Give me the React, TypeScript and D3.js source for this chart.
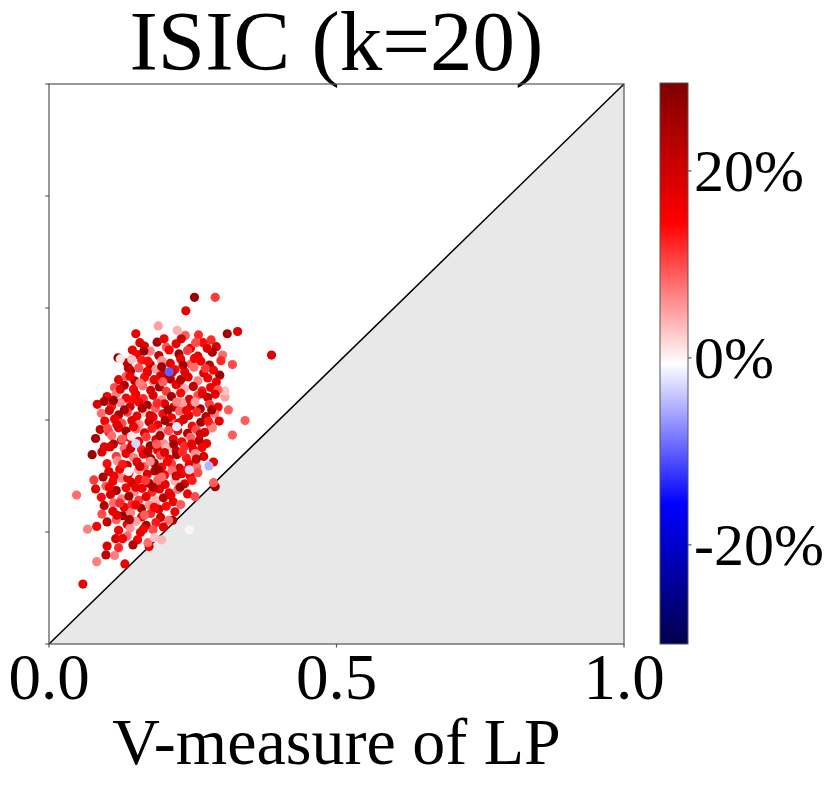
import React from "react";
import * as d3 from "d3";

// [V-measure of LP, y value, change %]
const points: [number, number, number][] = [
  [0.253,0.619,26],[0.289,0.619,11],[0.238,0.595,17],[0.190,0.568,5],[0.151,0.554,17],[0.223,0.560,4],[0.237,0.551,9],[0.260,0.552,12],[0.282,0.543,12],[0.310,0.554,25],[0.328,0.558,18],[0.387,0.516,18],[0.158,0.538,18],
  [0.048,0.266,8],[0.067,0.205,7],[0.083,0.210,15],[0.059,0.107,17],[0.083,0.147,7],[0.101,0.175,18],[0.099,0.159,22],[0.132,0.143,16],[0.244,0.204,0],[0.341,0.399,9],[0.319,0.373,9],[0.312,0.418,9],[0.306,0.441,5],[0.306,0.452,3],[0.319,0.499,10],[0.286,0.325,17],[0.289,0.281,26],[0.286,0.288,9],[0.215,0.221,25],[0.196,0.186,4],[0.174,0.174,16],[0.172,0.181,8],
  [0.166,0.532,18],[0.188,0.539,24],[0.204,0.530,9],[0.221,0.536,17],[0.246,0.528,16],[0.268,0.538,14],[0.291,0.531,19],
  [0.153,0.517,16],[0.176,0.523,7],[0.191,0.515,22],[0.209,0.525,15],[0.226,0.518,26],[0.241,0.524,11],[0.259,0.514,18],[0.284,0.521,25],[0.302,0.516,8],
  [0.136,0.502,20],[0.161,0.507,13],[0.176,0.499,24],[0.196,0.506,6],[0.211,0.501,17],[0.229,0.509,16],[0.247,0.500,9],[0.264,0.505,16],[0.279,0.498,24],[0.299,0.506,12],
  [0.142,0.488,25],[0.156,0.493,10],[0.171,0.485,18],[0.186,0.491,5],[0.201,0.482,22],[0.219,0.490,14],[0.236,0.486,16],[0.252,0.494,8],[0.269,0.484,19],[0.286,0.489,15],[0.297,0.480,26],
  [0.121,0.472,17],[0.134,0.478,9],[0.149,0.470,23],[0.166,0.476,14],[0.181,0.469,6],[0.194,0.479,19],[0.211,0.473,24],[0.226,0.466,12],[0.242,0.477,18],[0.259,0.470,7],[0.276,0.475,16],[0.291,0.468,16],
  [0.114,0.458,10],[0.131,0.462,24],[0.147,0.455,15],[0.163,0.461,8],[0.177,0.453,20],[0.192,0.459,26],[0.204,0.451,11],[0.221,0.463,17],[0.236,0.456,4],[0.251,0.460,22],[0.266,0.452,13],[0.281,0.458,16],[0.294,0.454,9],
  [0.101,0.442,16],[0.117,0.447,7],[0.134,0.439,16],[0.151,0.446,16],[0.164,0.438,12],[0.181,0.444,19],[0.196,0.436,6],[0.213,0.442,25],[0.229,0.448,14],[0.244,0.437,18],[0.259,0.444,10],[0.276,0.440,23],[0.289,0.446,17],
  [0.084,0.428,18],[0.096,0.433,25],[0.109,0.425,13],[0.124,0.431,6],[0.141,0.424,20],[0.156,0.432,15],[0.171,0.426,24],[0.185,0.421,9],[0.201,0.429,17],[0.217,0.423,22],[0.231,0.431,5],[0.247,0.425,19],[0.263,0.420,26],[0.279,0.428,11],[0.294,0.423,16],
  [0.091,0.412,8],[0.105,0.417,19],[0.121,0.409,24],[0.136,0.414,11],[0.153,0.407,17],[0.168,0.413,3],[0.181,0.405,16],[0.198,0.411,14],[0.213,0.404,16],[0.227,0.416,9],[0.243,0.408,18],[0.257,0.414,12],[0.273,0.406,23],[0.288,0.411,7],
  [0.097,0.398,15],[0.114,0.402,16],[0.127,0.394,10],[0.144,0.399,18],[0.157,0.392,6],[0.174,0.397,22],[0.189,0.391,16],[0.202,0.399,25],[0.219,0.393,8],[0.234,0.401,19],[0.249,0.389,14],[0.264,0.396,26],[0.281,0.391,11],[0.296,0.398,17],
  [0.089,0.383,22],[0.104,0.378,12],[0.121,0.386,17],[0.134,0.380,26],[0.151,0.384,9],[0.166,0.377,19],[0.179,0.385,13],[0.196,0.379,5],[0.211,0.387,23],[0.224,0.381,16],[0.241,0.376,24],[0.256,0.383,10],[0.271,0.378,18],[0.284,0.386,7],
  [0.081,0.367,25],[0.109,0.372,8],[0.126,0.364,20],[0.139,0.369,14],[0.156,0.362,16],[0.169,0.370,11],[0.186,0.365,18],[0.199,0.358,6],[0.216,0.366,16],[0.231,0.361,15],[0.246,0.369,9],[0.261,0.363,24],[0.274,0.358,17],
  [0.096,0.352,17],[0.112,0.357,23],[0.131,0.349,8],[0.144,0.355,19],[0.161,0.347,13],[0.176,0.354,26],[0.189,0.346,16],[0.206,0.352,4],[0.221,0.345,20],[0.236,0.353,12],[0.251,0.347,16],[0.266,0.351,15],
  [0.075,0.338,26],[0.092,0.343,18],[0.117,0.335,11],[0.134,0.340,16],[0.147,0.333,7],[0.164,0.339,16],[0.177,0.331,24],[0.194,0.337,10],[0.209,0.330,18],[0.222,0.338,24],[0.239,0.332,13],[0.254,0.340,6],[0.269,0.335,19],
  [0.101,0.322,14],[0.119,0.327,6],[0.136,0.319,22],[0.153,0.325,17],[0.166,0.317,9],[0.183,0.323,25],[0.196,0.316,15],[0.213,0.322,11],[0.227,0.314,20],[0.244,0.321,16],[0.257,0.316,8],
  [0.104,0.308,19],[0.123,0.312,16],[0.139,0.305,12],[0.156,0.311,5],[0.171,0.303,18],[0.184,0.309,23],[0.201,0.302,14],[0.214,0.310,8],[0.231,0.304,16],[0.246,0.299,16],[0.259,0.306,10],
  [0.078,0.293,11],[0.094,0.298,24],[0.111,0.290,16],[0.126,0.296,7],[0.144,0.288,20],[0.157,0.294,14],[0.174,0.287,26],[0.189,0.293,9],[0.202,0.285,17],[0.219,0.291,4],[0.236,0.286,19],[0.249,0.292,13],
  [0.081,0.277,18],[0.099,0.282,9],[0.117,0.274,25],[0.134,0.279,15],[0.149,0.272,6],[0.162,0.278,16],[0.179,0.271,12],[0.192,0.277,18],[0.209,0.270,16],[0.224,0.276,8],[0.241,0.268,16],[0.254,0.263,10],
  [0.091,0.262,14],[0.107,0.267,20],[0.126,0.259,7],[0.139,0.264,26],[0.156,0.257,11],[0.169,0.263,17],[0.186,0.256,4],[0.199,0.261,23],[0.216,0.254,15],[0.229,0.249,9],
  [0.096,0.247,23],[0.112,0.252,8],[0.131,0.244,17],[0.144,0.249,12],[0.161,0.242,25],[0.174,0.248,6],[0.191,0.241,19],[0.204,0.246,14],[0.219,0.236,16],
  [0.092,0.232,10],[0.111,0.237,18],[0.128,0.229,26],[0.142,0.234,7],[0.161,0.227,16],[0.177,0.233,12],[0.194,0.226,20],[0.208,0.221,8],
  [0.101,0.218,22],[0.117,0.222,9],[0.136,0.214,17],[0.151,0.219,5],[0.169,0.212,24],[0.186,0.217,13],[0.199,0.209,18],
  [0.121,0.203,15],[0.141,0.207,6],[0.159,0.199,16],[0.181,0.204,10],
  [0.116,0.188,19],[0.136,0.193,8],[0.154,0.186,16],[0.183,0.190,3],
  [0.121,0.172,12],[0.146,0.177,23],[0.114,0.158,7],
  [0.172,0.505,14],[0.183,0.472,16],[0.198,0.468,9],[0.214,0.485,18],[0.229,0.472,23],[0.188,0.430,12],[0.207,0.418,26],[0.222,0.432,7],[0.176,0.408,19],[0.162,0.421,24],[0.147,0.388,16],[0.193,0.372,24],[0.208,0.381,10],[0.226,0.395,17],[0.239,0.417,16],[0.254,0.432,5],
  [0.172,0.344,22],[0.187,0.357,9],[0.201,0.342,18],[0.217,0.357,25],[0.232,0.343,12],[0.158,0.317,19],[0.176,0.326,6],[0.191,0.311,26],[0.206,0.326,15],[0.221,0.300,20],[0.168,0.292,11],[0.181,0.280,24],[0.196,0.298,8],[0.151,0.280,17],[0.137,0.296,16],[0.128,0.321,13],
  [0.142,0.349,20],[0.127,0.366,9],[0.118,0.392,18],[0.131,0.418,25],[0.146,0.437,14],[0.158,0.466,7],[0.141,0.478,16],[0.171,0.487,16],[0.196,0.495,26],[0.253,0.510,15],[0.272,0.492,11],[0.267,0.447,18],[0.283,0.418,25],[0.277,0.398,13],[0.263,0.375,20],[0.248,0.357,17],
  [0.256,0.330,22],[0.239,0.310,14],[0.228,0.280,26],[0.212,0.265,18],[0.183,0.244,15],[0.166,0.230,9],[0.151,0.248,16],[0.123,0.252,12],[0.105,0.280,16],[0.113,0.300,15],[0.106,0.352,19],[0.102,0.385,10],[0.112,0.435,26],[0.124,0.455,17],[0.138,0.493,22],
  [0.165,0.523,26],[0.200,0.545,16],[0.230,0.545,20],[0.255,0.538,10],[0.275,0.528,18],[0.145,0.525,16],[0.233,0.498,24],[0.118,0.230,17],[0.140,0.222,24],[0.128,0.188,16],[0.164,0.205,16],
  [0.120,0.511,27],[0.124,0.509,1],[0.144,0.508,3],[0.278,0.318,-5],[0.244,0.311,-3],[0.151,0.358,-3],[0.222,0.388,-2],[0.138,0.308,0],[0.143,0.371,1],[0.209,0.486,-10],
];

const xTicks = [0, 0.5, 1.0];
const yTicks = [0, 0.2, 0.4, 0.6, 0.8, 1.0];
const cbarTicks = [20, 0, -20];
const cbarDomain = [-30.6, 29.4];
const seismic = ["#00004d", "#0000ff", "#ffffff", "#ff0000", "#800000"];

const FONT = "'Liberation Serif', 'Times New Roman', serif";

export default function App() {
  const L = 49, R = 624, T = 84, B = 644;
  const x = d3.scaleLinear().domain([0, 1]).range([L, R]);
  const y = d3.scaleLinear().domain([0, 1]).range([B, T]);

  const [vmin, vmax] = cbarDomain;
  const span = vmax - vmin;
  const color = d3
    .scaleLinear<string>()
    .domain(seismic.map((_, i) => vmin + (span * i) / (seismic.length - 1)))
    .range(seismic)
    .interpolate(d3.interpolateRgb)
    .clamp(true);

  const cbL = 660, cbR = 688, cbT = 83, cbB = 644;
  const cy = d3.scaleLinear().domain([vmin, vmax]).range([cbB, cbT]);

  const tri = d3.line()([
    [x(0), y(0)],
    [x(1), y(0)],
    [x(1), y(1)],
  ] as [number, number][]) + "Z";

  const axisColor = "#555";

  return (
    <svg
      width={831}
      height={785}
      style={{ position: "absolute", left: 0, top: 0, background: "#fff" }}
      fontFamily={FONT}
    >
      <defs>
        <linearGradient id="cb" x1="0" y1="1" x2="0" y2="0">
          {seismic.map((c, i) => (
            <stop key={i} offset={i / (seismic.length - 1)} stopColor={c} />
          ))}
        </linearGradient>
        <clipPath id="plot">
          <rect x={L} y={T} width={R - L} height={B - T} />
        </clipPath>
      </defs>

      <text x={(L + R) / 2} y={70} textAnchor="middle" fontSize={85}>
        ISIC (k=20)
      </text>

      <path d={tri} fill="#e8e8e8" />
      <line x1={x(0)} y1={y(0)} x2={x(1)} y2={y(1)} stroke="#000" strokeWidth={1.5} />

      <g clipPath="url(#plot)">
        {points.map((p, i) => (
          <circle key={i} cx={x(p[0])} cy={y(p[1])} r={4.6} fill={color(p[2])} />
        ))}
      </g>

      <rect x={L} y={T} width={R - L} height={B - T} fill="none" stroke={axisColor} strokeWidth={1.2} />

      {yTicks.map((t) => (
        <line key={"y" + t} x1={L - 3.5} x2={L} y1={y(t)} y2={y(t)} stroke={axisColor} strokeWidth={1.2} />
      ))}
      {xTicks.map((t) => (
        <g key={"x" + t}>
          <line x1={x(t)} x2={x(t)} y1={B} y2={B + 3.5} stroke={axisColor} strokeWidth={1.2} />
          <text x={x(t)} y={699} textAnchor="middle" fontSize={65}>
            {t.toFixed(1)}
          </text>
        </g>
      ))}

      <text x={(L + R) / 2} y={764} textAnchor="middle" fontSize={66}>
        V-measure of LP
      </text>

      <rect x={cbL} y={cbT} width={cbR - cbL} height={cbB - cbT} fill="url(#cb)" stroke={axisColor} strokeWidth={1} />
      {cbarTicks.map((t) => (
        <g key={"c" + t}>
          <line x1={cbR} x2={cbR + 3.5} y1={cy(t)} y2={cy(t)} stroke={axisColor} strokeWidth={1.2} />
          <text x={694} y={cy(t) + 20} fontSize={60}>
            {t + "%"}
          </text>
        </g>
      ))}
    </svg>
  );
}
